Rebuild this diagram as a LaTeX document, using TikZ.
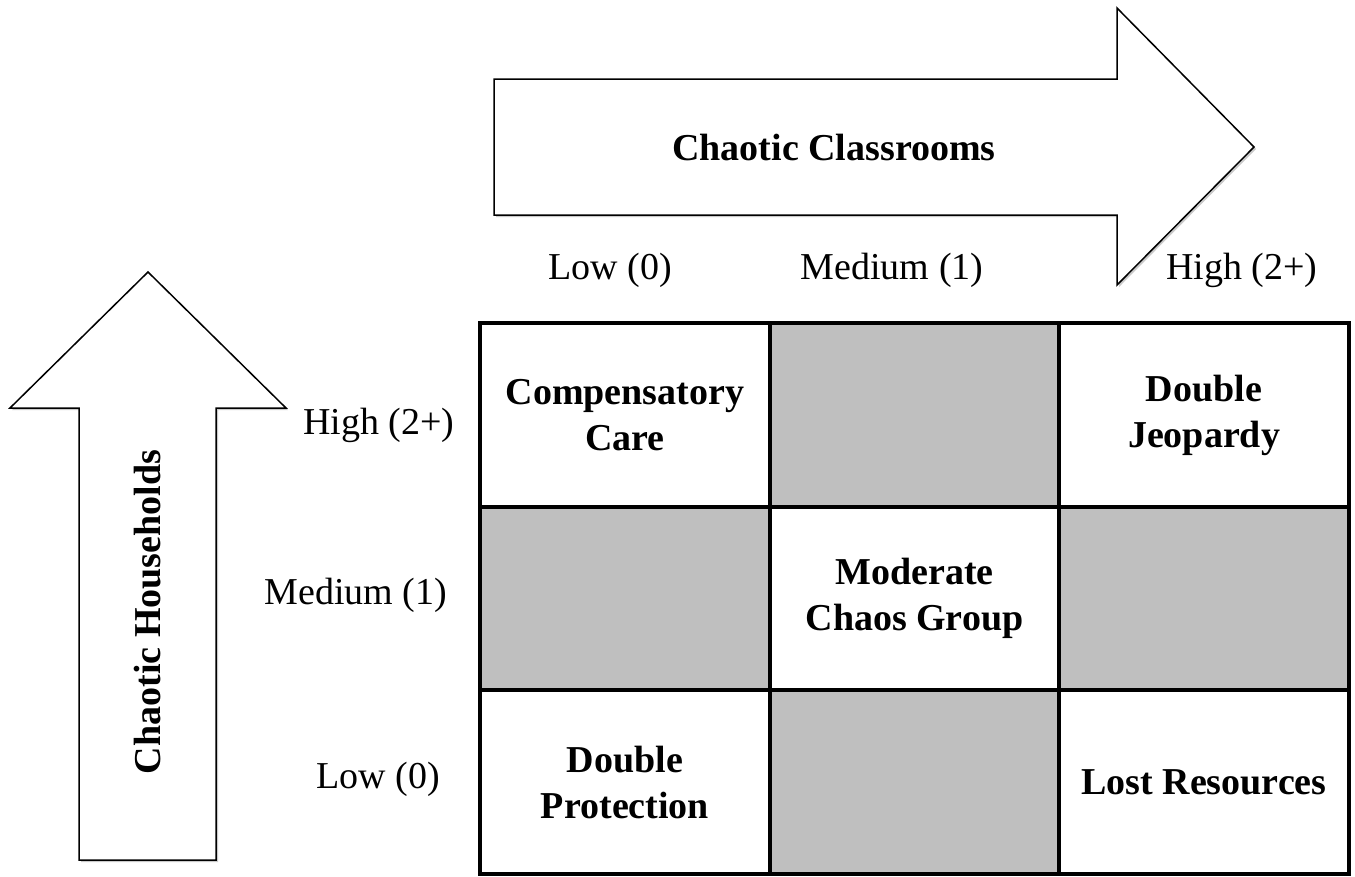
\documentclass[tikz,border=0pt]{standalone}
\usepackage{fontspec}
\setmainfont{Liberation Serif}
\usetikzlibrary{shadows}
\begin{document}
\begin{tikzpicture}[x=1pt,y=-1pt,
  bigarrow/.style={draw=black,line width=1.5pt,fill=white,line join=miter,
    drop shadow={shadow xshift=2pt,shadow yshift=-2pt,opacity=0.35,fill=black!60}},
  cell/.style={draw=black,line width=4pt,minimum width=289.5pt,minimum height=183.7pt,
    inner sep=0pt,align=center,font=\fontsize{38}{46}\selectfont\bfseries},
  whitecell/.style={cell,fill=white},
  graycell/.style={cell,fill=gray75},
  lvl/.style={anchor=base,inner sep=0pt,font=\fontsize{38}{46}\selectfont},
  axis/.style={inner sep=0pt,font=\fontsize{38}{46}\selectfont\bfseries}]
\definecolor{gray75}{HTML}{BFBFBF}
\useasboundingbox (0,0) rectangle (1355,876);
% top arrow
\draw[bigarrow] (494,79) -- (1117,79) -- (1117,8) -- (1254,147) -- (1117,285) -- (1117,215) -- (494,215) -- cycle;
\node[axis] (cc) at (834,147) {Chaotic Classrooms};
% left arrow
\draw[bigarrow] (79,860) -- (79,408) -- (10,408) -- (148,272) -- (286,408) -- (216,408) -- (216,860) -- cycle;
\node[axis,rotate=90] (ch) at (148,612) {Chaotic Households};
% column labels
\node[lvl] (cl) at (610,279) {Low (0)};
\node[lvl] (cm) at (892,279) {Medium (1)};
\node[lvl] (chh) at (1242,279) {High (2+)};
% row labels
\node[lvl] (rh) at (379,434) {High (2+)};
\node[lvl] (rm) at (356,604) {Medium (1)};
\node[lvl] (rl) at (378,788) {Low (0)};
% grid cells
\node[whitecell] (c11) at (625,415) {Compensatory\\Care};
\node[graycell]  (c12) at (914.5,415) {};
\node[whitecell] (c13) at (1204,415) {Double\\Jeopardy};
\node[graycell]  (c21) at (625,598.5) {};
\node[whitecell] (c22) at (914.5,598.5) {Moderate\\Chaos Group};
\node[graycell]  (c23) at (1204,598.5) {};
\node[whitecell] (c31) at (625,782) {Double\\Protection};
\node[graycell]  (c32) at (914.5,782) {};
\node[whitecell] (c33) at (1204,782) {Lost Resources};
\end{tikzpicture}
\end{document}
